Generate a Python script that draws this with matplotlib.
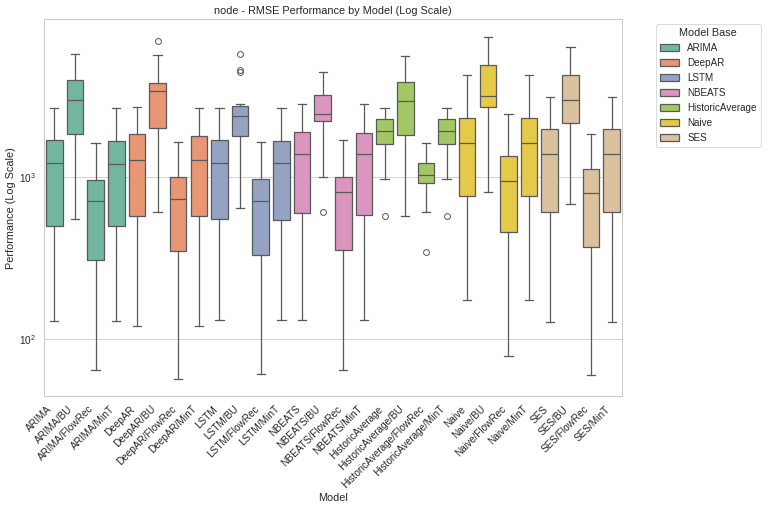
import colorsys
import matplotlib
matplotlib.use('Agg')
import matplotlib.pyplot as plt
import matplotlib.colors as mcolors
from matplotlib.patches import Patch

# model names, one box each
models = ['ARIMA', 'ARIMA/BU', 'ARIMA/FlowRec', 'ARIMA/MinT',
          'DeepAR', 'DeepAR/BU', 'DeepAR/FlowRec', 'DeepAR/MinT',
          'LSTM', 'LSTM/BU', 'LSTM/FlowRec', 'LSTM/MinT',
          'NBEATS', 'NBEATS/BU', 'NBEATS/FlowRec', 'NBEATS/MinT',
          'HistoricAverage', 'HistoricAverage/BU', 'HistoricAverage/FlowRec', 'HistoricAverage/MinT',
          'Naive', 'Naive/BU', 'Naive/FlowRec', 'Naive/MinT',
          'SES', 'SES/BU', 'SES/FlowRec', 'SES/MinT']
bases = ['ARIMA', 'DeepAR', 'LSTM', 'NBEATS', 'HistoricAverage', 'Naive', 'SES']

# box stats (RMSE)
whis_lo = [129, 547, 64, 129, 120, 608, 56.5, 120, 130, 647, 60.4, 130, 130, 1005, 63.7, 130,
           972, 577, 611, 972, 173, 813, 78.5, 173, 127, 678, 59.8, 127]
q1 = [502, 1837, 306, 502, 571, 2023, 351, 571, 547, 1804, 331, 542, 596, 2233, 356, 585,
      1601, 1820, 914, 1601, 766, 2730, 455, 766, 608, 2170, 372, 608]
med = [1227, 3014, 710, 1210, 1282, 3390, 735, 1274, 1227, 2386, 714, 1227, 1396, 2466, 813, 1396,
       1927, 2953, 1035, 1927, 1616, 3190, 944, 1616, 1396, 2983, 800, 1396]
q3 = [1693, 3963, 958, 1670, 1837, 3836, 1005, 1794, 1693, 2736, 977, 1675, 1910, 3236, 996, 1884,
      2277, 3873, 1221, 2277, 2328, 4970, 1343, 2328, 1983, 4300, 1121, 1983]
whis_hi = [2660, 5770, 1633, 2660, 2730, 5660, 1648, 2685, 2685, 2818, 1648, 2685, 2818, 4490, 1693, 2818,
           2660, 5580, 1633, 2660, 4276, 7400, 2466, 4276, 3141, 6410, 1837, 3141]
fliers = {5: [6980], 9: [5800, 4590, 4470], 13: [611], 16: [574], 18: [345], 19: [574]}

palette = ['#66c2a5', '#fc8d62', '#8da0cb', '#e78ac3', '#a6d854', '#ffd92f', '#e5c494']


def desat(c, s=0.75):
    r, g, b = mcolors.to_rgb(c)
    h, l, sat = colorsys.rgb_to_hls(r, g, b)
    return colorsys.hls_to_rgb(h, l, sat * s)


cols = [desat(c) for c in palette]
line_c = '#595959'

plt.rcParams['font.family'] = ['Liberation Sans', 'DejaVu Sans']
plt.rcParams['text.color'] = '.15'
plt.rcParams['axes.labelcolor'] = '.15'
plt.rcParams['xtick.color'] = '.15'
plt.rcParams['ytick.color'] = '.15'

fig = plt.figure(figsize=(12.8, 508 / 60), dpi=60)
ax = fig.add_axes([44 / 768, 112 / 508, 578 / 768, 376.5 / 508])

stats = []
for i, m in enumerate(models):
    stats.append(dict(label=m, whislo=whis_lo[i], q1=q1[i], med=med[i], q3=q3[i],
                      whishi=whis_hi[i], fliers=fliers.get(i, [])))

bp = ax.bxp(stats, positions=range(len(models)), widths=0.8, patch_artist=True,
            capwidths=0.4,
            boxprops=dict(edgecolor=line_c, linewidth=1.5),
            medianprops=dict(color=line_c, linewidth=1.5),
            whiskerprops=dict(color=line_c, linewidth=1.5),
            capprops=dict(color=line_c, linewidth=1.5),
            flierprops=dict(marker='o', markerfacecolor='none', markeredgecolor=line_c,
                            markersize=7, markeredgewidth=1.2))
for i, b in enumerate(bp['boxes']):
    b.set_facecolor(cols[i // 4])

ax.set_yscale('log')
ax.set_xlim(-0.5, len(models) - 0.5)
ax.set_xticks(range(len(models)))
ax.set_xticklabels(models, rotation=45, ha='right', fontsize=12)
ax.tick_params(axis='both', which='major', length=6, pad=3.5, labelsize=12, left=False, bottom=False)
ax.tick_params(axis='y', which='minor', left=False)
ax.grid(True, axis='y', which='major', color='.8', linewidth=1)
ax.set_axisbelow(True)
for s in ax.spines.values():
    s.set_color('.8')
    s.set_linewidth(1.25)

ax.set_title('node - RMSE Performance by Model (Log Scale)', fontsize=13)
ax.set_xlabel('Model', fontsize=13)
ax.set_ylabel('Performance (Log Scale)', fontsize=13)

handles = [Patch(facecolor=cols[k], edgecolor=line_c, linewidth=1.5, label=bases[k]) for k in range(len(bases))]
ax.legend(handles=handles, title='Model Base', bbox_to_anchor=(1.05, 1), loc='upper left',
          fontsize=11.8, title_fontsize=13, edgecolor='.8')

fig.savefig('out.png', dpi=60)
